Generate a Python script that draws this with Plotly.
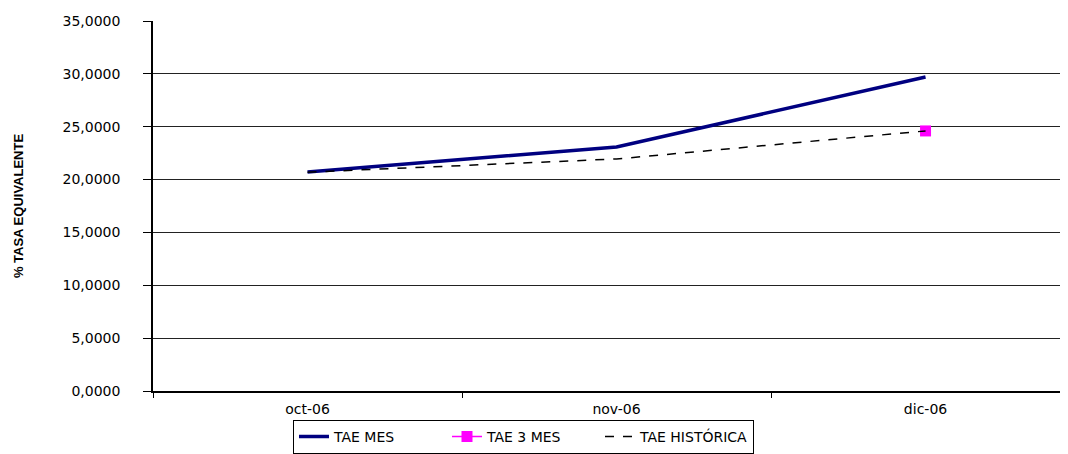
import plotly.graph_objects as go

categories = ["oct-06", "nov-06", "dic-06"]
tae_mes = [20.72, 23.08, 29.70]
tae_3mes = [None, None, 24.60]
tae_hist = [20.70, 21.95, 24.60]
y_ticks = [0, 5, 10, 15, 20, 25, 30, 35]

fig = go.Figure()
fig.add_trace(go.Scatter(x=categories, y=tae_mes, name="TAE MES", mode="lines",
                         line=dict(color="#000080", width=3.5)))
fig.add_trace(go.Scatter(x=categories, y=tae_3mes, name="TAE 3 MES", mode="lines+markers",
                         line=dict(color="#FF00FF", width=1.5),
                         marker=dict(symbol="square", size=11, color="#FF00FF")))
fig.add_trace(go.Scatter(x=categories, y=tae_hist, name="TAE HISTÓRICA", mode="lines",
                         line=dict(color="black", width=1.5, dash="dash")))

font = "DejaVu Sans, Liberation Sans, Arial, sans-serif"
fig.update_layout(
    width=1060, height=446,
    margin=dict(l=145, r=0, t=13, b=63),
    plot_bgcolor="white", paper_bgcolor="white",
    separators=",.",
    font=dict(family=font, size=14, color="black"),
    showlegend=True,
    legend=dict(orientation="h", x=0.153, xanchor="left", y=-0.078, yanchor="top",
                bordercolor="black", borderwidth=1, bgcolor="white",
                font=dict(size=14), entrywidth=108, entrywidthmode="pixels",
                tracegroupgap=0),
    xaxis=dict(range=[-0.5, 2.461], showline=True, linecolor="black", linewidth=1.5,
               ticks="outside", tickson="boundaries", ticklen=5, tickcolor="black",
               showgrid=False, tickfont=dict(size=14), ticklabelstandoff=4),
    yaxis=dict(range=[0, 35], tickvals=y_ticks, tickformat=".4f", showline=True,
               linecolor="black", linewidth=1.5, ticks="outside", ticklen=8,
               tickcolor="black", showgrid=True, gridcolor="#222222", gridwidth=1,
               zeroline=False, tickfont=dict(size=14), ticklabelstandoff=20,
               title=dict(text="<b>% TASA EQUIVALENTE</b>",
                          font=dict(size=13, family="Liberation Sans, Arial, sans-serif"),
                          standoff=36)),
)
fig.write_html("out.html")
